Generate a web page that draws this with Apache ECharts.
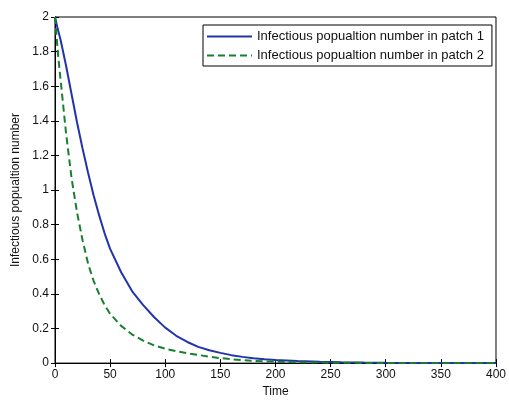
<!DOCTYPE html>
<html>
<head>
<meta charset="utf-8">
<script src="https://cdn.jsdelivr.net/npm/echarts@6/dist/echarts.min.js"></script>
<style>html,body{margin:0;padding:0;background:#fff}#c{width:509px;height:403px}</style>
</head>
<body>
<div id="c"></div>
<script>
var times   = [0, 2.5, 5, 10, 15, 20, 25, 30, 35, 40, 45, 50, 60, 70, 80, 90, 100, 110, 120, 130, 140, 150, 160, 170, 180, 190, 200, 220, 240, 260, 280, 300, 350, 400];
var patch1  = [2.0, 1.93, 1.87, 1.72, 1.555, 1.39, 1.24, 1.10, 0.97, 0.855, 0.75, 0.66, 0.525, 0.415, 0.335, 0.265, 0.205, 0.158, 0.122, 0.094, 0.074, 0.059, 0.046, 0.036, 0.028, 0.022, 0.018, 0.012, 0.008, 0.005, 0.003, 0.002, 0.001, 0.0005];
var patch2  = [2.0, 1.8, 1.64, 1.33, 1.07, 0.87, 0.71, 0.575, 0.475, 0.40, 0.335, 0.285, 0.215, 0.165, 0.13, 0.102, 0.083, 0.069, 0.057, 0.047, 0.037, 0.029, 0.022, 0.018, 0.013, 0.010, 0.008, 0.005, 0.003, 0.002, 0.001, 0.001, 0.0005, 0.0003];
var seriesNames = ['Infectious popualtion number in patch 1', 'Infectious popualtion number in patch 2'];
var xTitle = 'Time';
var yTitle = 'Infectious popualtion number';

function pairs(ys){ return times.map(function(t,i){ return [t, ys[i]]; }); }

var font = 'Liberation Sans, Arial, sans-serif';
var chart = echarts.init(document.getElementById('c'), null, {renderer:'canvas'});
var tickStyle = {show:true, inside:true, length:4, lineStyle:{color:'#000', width:1}};
chart.setOption({
  animation:false,
  backgroundColor:'#fff',
  grid:{left:55, right:12, top:17, bottom:38, show:true, borderColor:'#000', borderWidth:1, backgroundColor:'#fff'},
  legend:{
    orient:'vertical', left:203, top:25,
    padding:[5,8,4,3], itemGap:6, itemWidth:45, itemHeight:14,
    backgroundColor:'#fff', borderColor:'#000', borderWidth:1, borderRadius:0,
    itemStyle:{opacity:0},
    textStyle:{fontFamily:font, fontSize:13, color:'#111'},
    data:seriesNames
  },
  xAxis:[{
    type:'value', min:0, max:400, interval:50, position:'bottom',
    name:xTitle, nameLocation:'middle', nameGap:22,
    nameTextStyle:{fontFamily:font, fontSize:12, color:'#111'},
    axisLine:{show:true, lineStyle:{color:'#000', width:1}},
    axisTick:tickStyle,
    axisLabel:{fontFamily:font, fontSize:12, color:'#111', margin:6},
    splitLine:{show:false}
  },{
    type:'value', min:0, max:400, interval:50, position:'top',
    axisLine:{show:true, lineStyle:{color:'#000', width:1}},
    axisTick:tickStyle, axisLabel:{show:false}, splitLine:{show:false}
  }],
  yAxis:[{
    type:'value', min:0, max:2, interval:0.2, position:'left',
    name:yTitle, nameLocation:'middle', nameGap:25,
    nameTextStyle:{fontFamily:font, fontSize:12, color:'#111'},
    axisLine:{show:true, lineStyle:{color:'#000', width:1}},
    axisTick:tickStyle,
    axisLabel:{fontFamily:font, fontSize:12, color:'#111', margin:6},
    splitLine:{show:false}
  },{
    type:'value', min:0, max:2, interval:0.2, position:'right',
    axisLine:{show:true, lineStyle:{color:'#000', width:1}},
    axisTick:tickStyle, axisLabel:{show:false}, splitLine:{show:false}
  }],
  series:[{
    name:seriesNames[0], type:'line', xAxisIndex:0, yAxisIndex:0,
    data:pairs(patch1), symbol:'none', smooth:false,
    lineStyle:{color:'#2234a8', width:2, type:'solid'}, itemStyle:{color:'#2234a8'}
  },{
    name:seriesNames[1], type:'line', xAxisIndex:0, yAxisIndex:0,
    data:pairs(patch2), symbol:'none', smooth:false,
    lineStyle:{color:'#17802e', width:2, type:[7,4]}, itemStyle:{color:'#17802e'}
  }]
});
</script>
</body>
</html>
